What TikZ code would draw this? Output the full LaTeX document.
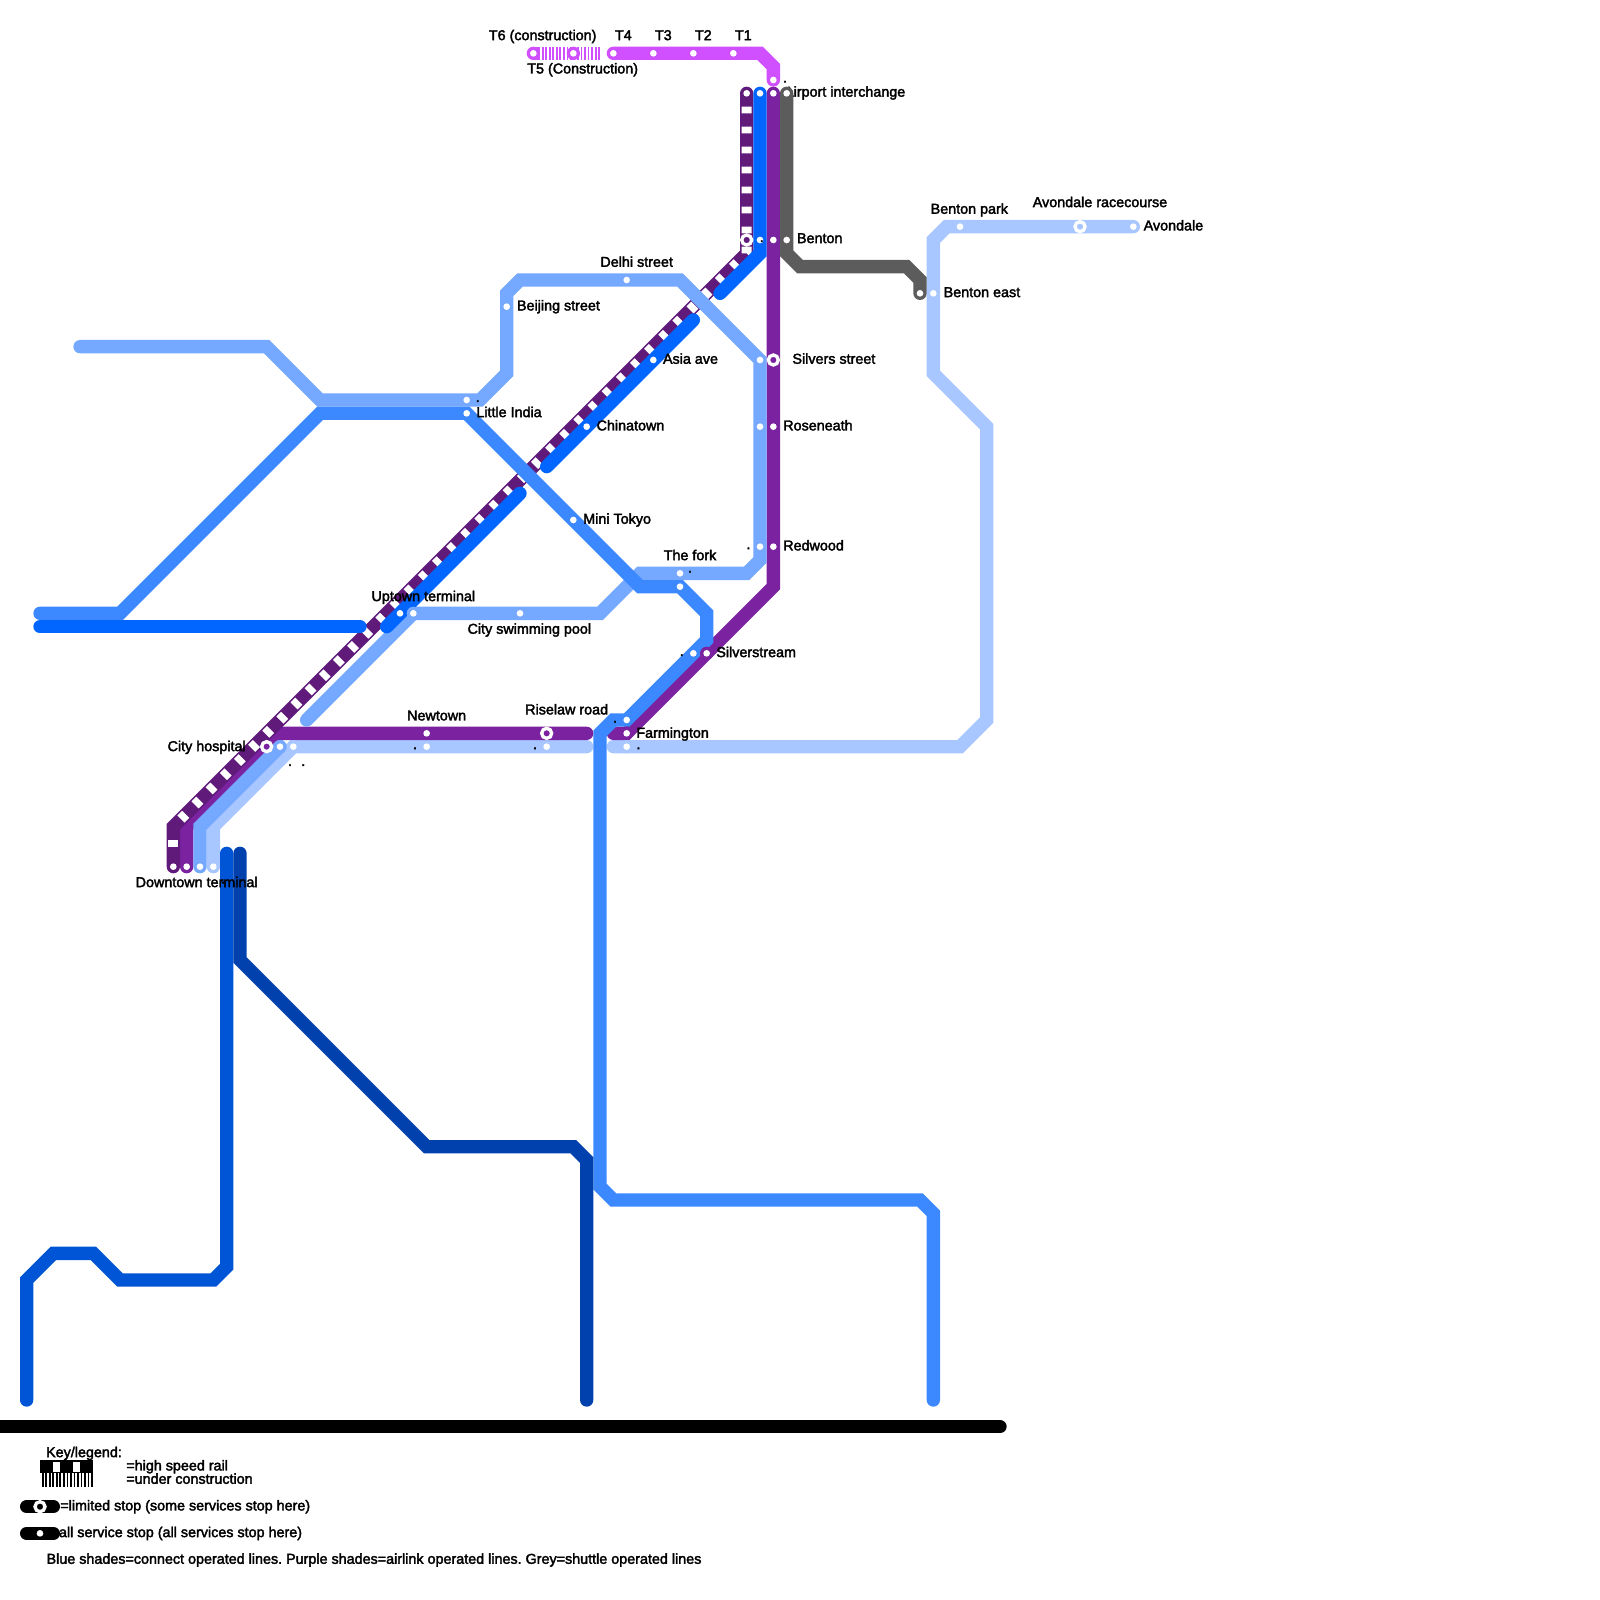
\documentclass[tikz,border=0pt]{standalone}
\usepackage{fontspec}
\setmainfont[FakeBold=2.4]{Liberation Sans}
\frenchspacing
\definecolor{termline}{HTML}{D050FF}
\definecolor{fastline}{HTML}{5F1A7A}
\definecolor{airlink}{HTML}{7B22A0}
\definecolor{shuttle}{HTML}{5C5C5C}
\definecolor{deepline}{HTML}{0066FF}
\definecolor{mainline}{HTML}{3B88FF}
\definecolor{paleline}{HTML}{75A8FF}
\definecolor{softline}{HTML}{A8C6FF}
\definecolor{southline}{HTML}{0055D6}
\definecolor{darkline}{HTML}{0041AD}
\begin{document}
\begin{tikzpicture}[x=0.2cm, y=-0.2cm,
    route/.style={line width=0.2cm, line cap=round, line join=miter},
    stop/.style={circle, fill=white, inner sep=0pt, minimum size=0.1cm},
    disc/.style={circle, minimum size=0.2cm, inner sep=0pt},
    ringstop/.style={circle, draw=white, line width=0.05cm, inner sep=0pt, minimum size=0.15cm},
    lbl/.style={font=\fontsize{6.12}{7}\selectfont, inner sep=0pt, text height=0.72em, text depth=0.2em, yshift=0.015cm},
    rlbl/.style={lbl, anchor=west, xshift=-0.012cm},
    speck/.style={font=\fontsize{6.12}{7}\selectfont, inner sep=0pt},
    fastdash/.style={white, line width=0.15cm, dash pattern=on 0.1cm off 0.2cm, dash phase=0.1cm},
    hatch/.style={white, line width=0.2cm, dash pattern=on 0.0265cm off 0.0265cm}]
    \useasboundingbox (0,0) rectangle (120,120);

    % Label under the shuttle line
    \node[lbl, anchor=east] (lairport) at (67.93,6.87) {Airport interchange};

    % Lines under the high speed rail
    \draw[route, softline] (44,56) -- (22,56) -- (16,62) -- (16,65);
    \draw[route, softline] (46,56) -- (72,56) -- (74,54) -- (74,32) -- (70,28) -- (70,18) -- (71,17) -- (85,17);
    \draw[route, airlink] (44,55) -- (21,55) -- (14,62) -- (14,65);
    \draw[route, airlink] (58,7) -- (58,44) -- (47,55) -- (46,55);

    % High speed rail
    \draw[route, fastline] (56,7) -- (56,19) -- (13,62) -- (13,65);
    \draw[fastdash] (56,7) -- (56,19) -- (13,62);
    \draw[white, line width=0.15cm] (13,63) -- (13,63.5);

    % Blue lines
    \draw[route, paleline] (6,26) -- (20,26) -- (24,30) -- (36,30) -- (38,28) -- (38,22) -- (39,21) -- (51,21) -- (57,27) -- (57,42) -- (56,43) -- (48,43) -- (45,46) -- (31,46) -- (23,54);
    \draw[route, paleline] (21,56) -- (15,62) -- (15,65);
    \draw[route, mainline] (3,46) -- (9,46) -- (24,31) -- (35,31) -- (48,44) -- (51,44) -- (53,46) -- (53,48) -- (47,54) -- (46,54) -- (45,55) -- (45,89) -- (46,90) -- (69,90) -- (70,91) -- (70,105);
    \draw[route, southline] (17,64) -- (17,95) -- (16,96) -- (9,96) -- (7,94) -- (4,94) -- (2,96) -- (2,105);
    \draw[route, darkline] (18,64) -- (18,72) -- (32,86) -- (43,86) -- (44,87) -- (44,105);
    \draw[route, deepline] (3,47) -- (27,47);
    \draw[route, deepline] (29,47) -- (39,37);
    \draw[route, deepline] (41,35) -- (52,24);
    \draw[route, deepline] (54,22) -- (57,19) -- (57,7);

    % Shuttle line
    \draw[route, shuttle] (59,7) -- (59,19) -- (60,20) -- (68,20) -- (69,21) -- (69,22);

    % Airport terminals
    \draw[route, termline] (46,4) -- (57,4) -- (58,5) -- (58,6);
    \draw[line width=0.2cm, termline] (40,4) -- (45,4);
    \draw[hatch] (40.5,4) -- (45,4);

    % Discs under the stops
    \foreach \i/\x/\y/\c in {a/40/4/termline,b/43/4/termline,c/53/49/airlink,d/31/46/paleline,
        e/21/56/paleline,f/22/56/softline,g/47/55/airlink,h/47/56/softline} {
        \node[disc, fill=\c] (d\i) at (\x,\y) {};
    }

    % All service stops
    \foreach \i/\x/\y in {a/46/4,b/49/4,c/52/4,d/55/4,e/58/6,f/40/4,g/43/4,
        h/56/7,i/57/7,j/58/7,k/59/7,l/57/18,m/58/18,n/59/18,o/69/22,
        p/13/65,q/14/65,r/15/65,s/16/65,
        t/49/27,u/44/32,v/30/46,w/58/32,x/58/41,y/53/49,z/47/55,
        aa/32/55,ab/39/46,ac/47/21,ad/38/23,ae/35/30,af/51/43,
        ag/57/27,ah/57/32,ai/57/41,aj/21/56,ak/31/46,
        al/35/31,am/43/39,an/51/44,ao/52/49,ap/47/54,
        aq/22/56,ar/32/56,as/41/56,at/47/56,au/70/22,av/72/17,aw/85/17} {
        \node[stop] (s\i) at (\x,\y) {};
    }

    % Limited stops
    \foreach \i/\x/\y in {a/56/18,b/58/27,c/41/55,d/20/56,e/81/17} {
        \node[ringstop] (r\i) at (\x,\y) {};
    }

    % Stray points
    \foreach \i/\x/\y in {a/58.88/6.13,b/35.83/30.08,c/56.13/41.13,d/51.75/42.88,e/51.13/49.13,
        f/46.13/54.13,g/40.13/56.13,h/47.88/56.13,i/21.75/57.38,j/22.75/57.38,
        k/31.13/56.13,l/57.13/18.08,m/16.73/66.2} {
        \node[speck] (p\i) at (\x,\y) {.};
    }

    % Labels, centred
    \foreach \i/\x/\y/\t in {a/40.7/2.63/T6 (construction),b/46.75/2.63/T4,c/49.75/2.63/T3,d/52.75/2.63/T2,e/55.75/2.63/T1,
        f/43.7/5.13/T5 (Construction),g/47.75/19.63/Delhi street,h/72.7/15.65/Benton park,i/82.5/15.15/Avondale racecourse,
        j/51.75/41.63/The fork,k/31.75/44.7/Uptown terminal,l/39.7/47.15/City swimming pool,m/32.75/53.65/Newtown,
        n/42.5/53.2/Riselaw road,o/15.5/55.95/City hospital,p/14.75/66.15/Downtown terminal,q/6.3/108.9/Key\slash legend:} {
        \node[lbl] (c\i) at (\x,\y) {\t};
    }

    % Labels, to the right
    \foreach \i/\x/\y/\t in {a/59.8/17.85/Benton,b/38.8/22.9/Beijing street,c/85.8/16.9/Avondale,d/70.8/21.9/Benton east,
        e/59.46/26.9/Silvers street,f/49.75/26.9/Asia ave,g/35.75/30.9/Little India,h/44.77/31.9/Chinatown,
        i/58.77/31.9/Roseneath,j/43.77/38.9/Mini Tokyo,k/58.77/40.9/Redwood,l/53.75/48.9/Silverstream,m/47.75/54.95/Farmington} {
        \node[rlbl] (w\i) at (\x,\y) {\t};
    }

    % Bottom bar
    \draw[route, black] (0,107) -- (75,107);

    % Key
    \draw[line width=0.2cm, black] (3,110) -- (7,110);
    \draw[fastdash] (3,110) -- (7,110);
    \draw[line width=0.2cm, black] (3,111) -- (7,111);
    \draw[hatch] (3,111) -- (7,111);
    \draw[route, black] (2,113) -- (4,113);
    \node[ringstop] (klimited) at (3,113) {};
    \draw[route, black] (2,115) -- (4,115);
    \node[stop] (kall) at (3,115) {};
    \node[rlbl] (k1) at (9.5,109.9) {=high speed rail};
    \node[rlbl] (k2) at (9.5,110.9) {=under construction};
    \node[rlbl] (k3) at (4.55,112.9) {=limited stop (some services stop here)};
    \node[rlbl] (k4) at (4.45,114.9) {all service stop (all services stop here)};
    \node[rlbl] (k5) at (3.52,116.9) {Blue shades=connect operated lines. Purple shades=airlink operated lines. Grey=shuttle operated lines};
\end{tikzpicture}
\end{document}
